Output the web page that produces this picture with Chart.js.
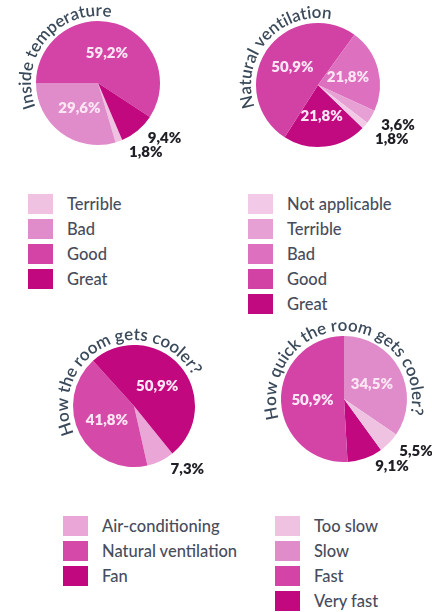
<!DOCTYPE html>
<html>
<head>
<meta charset="utf-8">
<script src="https://cdn.jsdelivr.net/npm/chart.js@4/dist/chart.umd.min.js"></script>
<style>
  html, body { margin: 0; padding: 0; background: #fff; }
  body { width: 432px; height: 612px; position: relative; overflow: hidden; font-family: Lato, "Noto Sans", sans-serif; }
  .box { position: absolute; width: 216px; }
  .legend { position: absolute; }
  .legend .item { display: flex; align-items: center; height: 25px; }
  .legend .sw { width: 25px; height: 20px; flex: none; }
  .legend span { margin-left: 14px; font-size: 16.5px; font-weight: 500; color: #474d5c; white-space: nowrap; }
</style>
</head>
<body>

<div class="box" style="left:0;top:0;height:175px"><canvas id="insideTempChart"></canvas></div>
<div class="box" style="left:216px;top:0;height:175px"><canvas id="ventilationChart"></canvas></div>
<div class="legend" id="insideTempLegend" style="left:28px;top:191px"></div>
<div class="legend" id="ventilationLegend" style="left:248px;top:191px"></div>

<div class="box" style="left:0;top:310px;height:180px"><canvas id="coolingChart"></canvas></div>
<div class="box" style="left:216px;top:310px;height:180px"><canvas id="coolingSpeedChart"></canvas></div>
<div class="legend" id="coolingLegend" style="left:63px;top:513px"></div>
<div class="legend" id="coolingSpeedLegend" style="left:275px;top:513px"></div>

<script>
// survey answers, in legend order
const insideTempLabels = ["Terrible", "Bad", "Good", "Great"];
const insideTempValues = [1.8, 29.6, 59.2, 9.4];

const ventilationLabels = ["Not applicable", "Terrible", "Bad", "Good", "Great"];
const ventilationValues = [1.8, 3.6, 21.8, 50.9, 21.8];

const coolingLabels = ["Air-conditioning", "Natural ventilation", "Fan"];
const coolingValues = [7.3, 41.8, 50.9];

const coolingSpeedLabels = ["Too slow", "Slow", "Fast", "Very fast"];
const coolingSpeedValues = [5.5, 34.5, 50.9, 9.1];

// pink scales, lightest to darkest
const pinks4 = ["#f0c2e2", "#e08ccb", "#d444a7", "#c1087f"];
const pinks5 = ["#f2c9e6", "#e7a0d3", "#dd70bf", "#d242a5", "#c20a80"];
const pinks3 = ["#e9a6d6", "#d54aa9", "#c1087f"];

const toRad = deg => deg * Math.PI / 180;

// title text bent around the top of the pie
const curvedTitle = {
    id: "curvedTitle",
    afterDraw(chart, args, opts){
        const arc = chart.getDatasetMeta(0).data[0];
        if(!arc) return;
        const ctx = chart.ctx;
        const r = arc.outerRadius + opts.gap;
        ctx.save();
        ctx.font = opts.font;
        ctx.fillStyle = opts.color;
        ctx.textAlign = "center";
        ctx.textBaseline = "alphabetic";
        const chars = [...opts.text];
        const widths = chars.map(c => ctx.measureText(c).width);
        const total = widths.reduce((a, b) => a + b, 0);
        let a = toRad(opts.centerAngle) - total / r / 2;
        chars.forEach((c, i) => {
            const mid = a + widths[i] / 2 / r;
            ctx.save();
            ctx.translate(arc.x + r * Math.sin(mid), arc.y - r * Math.cos(mid));
            ctx.rotate(mid);
            ctx.fillText(c, 0, 0);
            ctx.restore();
            a += widths[i] / r;
        });
        ctx.restore();
    }
};

// percentages: inside big slices, next to the rim for small ones
const sliceLabels = {
    id: "sliceLabels",
    afterDatasetsDraw(chart){
        const ctx = chart.ctx;
        const values = chart.data.datasets[0].data;
        const outside = [];
        ctx.save();
        ctx.font = "800 15px Lato";
        ctx.textBaseline = "middle";
        chart.getDatasetMeta(0).data.forEach((arc, i) => {
            const text = values[i].toFixed(1).replace(".", ",") + "%";
            const mid = (arc.startAngle + arc.endAngle) / 2;
            if(values[i] >= 10){
                const d = arc.outerRadius * 0.5;
                ctx.textAlign = "center";
                ctx.fillStyle = "#fde6f4";
                ctx.fillText(text, arc.x + Math.cos(mid) * d, arc.y + Math.sin(mid) * d);
            }
            else{
                outside.push({
                    text: text,
                    x: arc.x + Math.cos(mid) * arc.outerRadius + 10,
                    y: arc.y + Math.sin(mid) * arc.outerRadius + 8
                });
            }
        });
        outside.sort((p, q) => p.y - q.y);
        for(let i = 1; i < outside.length; i++){
            if(outside[i].y - outside[i - 1].y < 14) outside[i].y = outside[i - 1].y + 14;
        }
        ctx.textAlign = "left";
        ctx.fillStyle = "#1f1f26";
        outside.forEach(p => ctx.fillText(p.text, p.x, p.y));
        ctx.restore();
    }
};

function buildLegend(id, labels, colors){
    const box = document.getElementById(id);
    labels.forEach((label, i) => {
        const item = document.createElement("div");
        item.className = "item";
        const sw = document.createElement("div");
        sw.className = "sw";
        sw.style.background = colors[i];
        const text = document.createElement("span");
        text.textContent = label;
        item.appendChild(sw);
        item.appendChild(text);
        box.appendChild(item);
    });
}

function pieBuilder(id, labels, values, colors, cfg){
    // some pies run counter-clockwise through the legend order
    let l = labels.slice(), v = values.slice(), c = colors.slice();
    if(cfg.reverse){ l.reverse(); v.reverse(); c.reverse(); }

    const pad = {
        left: cfg.cx - cfg.r,
        top: cfg.cy - cfg.r,
        right: cfg.w - cfg.cx - cfg.r,
        bottom: cfg.h - cfg.cy - cfg.r
    };

    new Chart(id, {
        type: "pie",
        data: {
            labels: l,
            datasets: [{
                data: v,
                backgroundColor: c,
                borderWidth: 0
            }]
        },
        options: {
            responsive: true,
            maintainAspectRatio: false,
            animation: false,
            rotation: cfg.rotation,
            layout: { padding: pad },
            plugins: {
                legend: { display: false },
                tooltip: { enabled: false },
                curvedTitle: {
                    text: cfg.title,
                    centerAngle: cfg.titleAngle,
                    gap: 5,
                    font: "600 17px Lato",
                    color: "#3b4a5a"
                }
            }
        },
        plugins: [curvedTitle, sliceLabels]
    });
}

pieBuilder("insideTempChart", insideTempLabels, insideTempValues, pinks4, {
    title: "Inside temperature", titleAngle: 310, rotation: 157,
    w: 216, h: 175, cx: 98, cy: 83, r: 62
});
pieBuilder("ventilationChart", ventilationLabels, ventilationValues, pinks5, {
    title: "Natural ventilation", titleAngle: 311, rotation: 134, reverse: true,
    w: 216, h: 175, cx: 102, cy: 85, r: 62
});
pieBuilder("coolingChart", coolingLabels, coolingValues, pinks3, {
    title: "How the room gets cooler?", titleAngle: 334, rotation: 141,
    w: 216, h: 180, cx: 134, cy: 96, r: 61
});
pieBuilder("coolingSpeedChart", coolingSpeedLabels, coolingSpeedValues, pinks4, {
    title: "How quick the room gets cooler?", titleAngle: 358, rotation: 144, reverse: true,
    w: 216, h: 180, cx: 128, cy: 89, r: 63
});

buildLegend("insideTempLegend", insideTempLabels, pinks4);
buildLegend("ventilationLegend", ventilationLabels, pinks5);
buildLegend("coolingLegend", coolingLabels, pinks3);
buildLegend("coolingSpeedLegend", coolingSpeedLabels, pinks4);
</script>
</body>
</html>
